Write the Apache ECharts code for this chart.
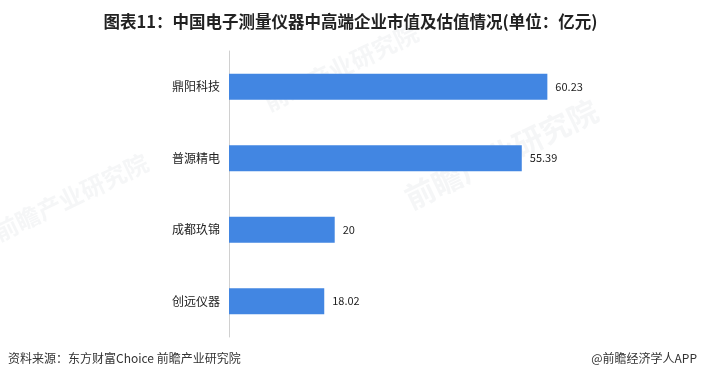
<!DOCTYPE html>
<html>
<head>
<meta charset="utf-8">
<script src="https://cdn.jsdelivr.net/npm/echarts@6/dist/echarts.min.js"></script>
<style>
  html, body { margin: 0; padding: 0; background: #fff; }
  #chart { width: 701px; height: 383px; }
</style>
</head>
<body>
<div id="chart"></div>
<script>
// Companies listed top to bottom and their market value (亿元)
const companies = ['鼎阳科技', '普源精电', '成都玖锦', '创远仪器'];
const marketValues = [60.23, 55.39, 20, 18.02];

const titleText = '图表11：中国电子测量仪器中高端企业市值及估值情况(单位：亿元)';
const sourceText = '资料来源：东方财富Choice 前瞻产业研究院';
const brandText = '@前瞻经济学人APP';

const fontFamily = '"Noto Sans CJK SC", "Microsoft YaHei", sans-serif';

const chart = echarts.init(document.getElementById('chart'), null, { renderer: 'canvas' });

// faint brand watermark
function watermark(x, y, size) {
  return {
    type: 'text',
    left: x,
    top: y,
    rotation: Math.PI / 7,
    silent: true,
    z: -1,
    style: {
      text: '前瞻产业研究院',
      fill: 'rgba(210,214,220,0.22)',
      font: 'bold ' + size + 'px ' + fontFamily
    }
  };
}

chart.setOption({
  animation: false,
  backgroundColor: '#ffffff',
  title: {
    text: titleText,
    left: 'center',
    top: 8,
    textStyle: {
      fontFamily: fontFamily,
      fontSize: 16.5,
      fontWeight: 'bold',
      color: '#222'
    }
  },
  graphic: [
    watermark(-10, 150, 24),
    watermark(260, 20, 24),
    watermark(400, 95, 30),
    {
      type: 'text',
      left: 8,
      top: 352,
      style: { text: sourceText, fill: '#333', font: '12px ' + fontFamily }
    },
    {
      type: 'text',
      right: 4,
      top: 352,
      style: { text: brandText, fill: '#333', font: '12px ' + fontFamily }
    }
  ],
  grid: {
    left: 229,
    top: 51,
    width: 370,
    height: 286
  },
  xAxis: {
    type: 'value',
    min: 0,
    max: 70,
    show: false
  },
  yAxis: {
    type: 'category',
    data: companies,
    inverse: true,
    axisLine: { show: true, lineStyle: { color: '#d0d0d0', width: 1 } },
    axisTick: { show: false },
    axisLabel: {
      margin: 9,
      color: '#222',
      fontSize: 12,
      fontFamily: fontFamily
    }
  },
  series: [{
    type: 'bar',
    data: marketValues,
    barWidth: 26,
    itemStyle: { color: '#4286e2' },
    label: {
      show: true,
      position: 'right',
      distance: 8,
      color: '#222',
      fontSize: 11,
      fontFamily: fontFamily
    }
  }]
});
</script>
</body>
</html>
